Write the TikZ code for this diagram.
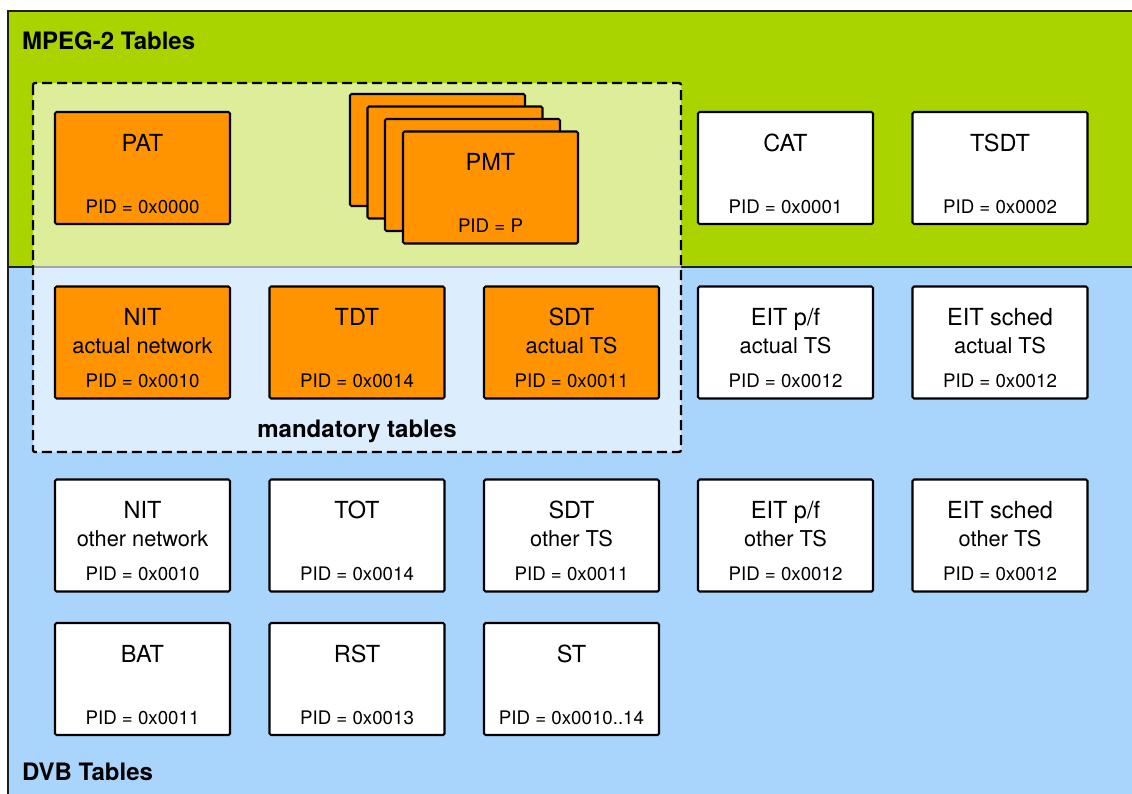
\documentclass[tikz,border=0pt]{standalone}
\usepackage{fontspec}
\setmainfont{TeX Gyre Heros}
\usetikzlibrary{calc}
\definecolor{mgreen}{RGB}{170,212,0}
\definecolor{mblue}{RGB}{169,213,253}
\definecolor{morange}{RGB}{255,147,0}
\definecolor{mframe}{RGB}{30,30,30}
\tikzset{
  tbl/.style={draw=black, line width=2.1pt, rounded corners=1.5pt, minimum width=175pt, minimum height=112pt, inner sep=0pt, outer sep=0pt, anchor=north west},
  ttl/.style={font=\fontsize{23.5}{24}\selectfont, inner sep=0pt, anchor=base},
  subt/.style={font=\fontsize{21.8}{22}\selectfont, inner sep=0pt, anchor=base},
  pidt/.style={font=\fontsize{18.7}{19}\selectfont, inner sep=0pt, anchor=base},
  hdr/.style={font=\bfseries\fontsize{24}{24}\selectfont, inner sep=0pt, anchor=base west},
  mand/.style={font=\bfseries\fontsize{24}{24}\selectfont, inner sep=0pt, anchor=base},
  dashbox/.style={draw=black, line width=2.3pt, dash pattern=on 10pt off 5pt, fill=white, fill opacity=0.6, rounded corners=2pt},
}
\newcommand\mybox[7]{%
  \node[tbl, fill=#4] (#1) at (#2,#3) {};
  \node[ttl] (#1t) at ($(#1.north)+(0,39)$) {#5};
  \if\relax\detokenize{#6}\relax\else
    \node[subt] (#1s) at ($(#1.north)+(0,67)$) {#6};
  \fi
  \node[pidt] (#1p) at ($(#1.north)+(0,101)$) {#7};
}
\begin{document}
\begin{tikzpicture}[x=1pt,y=-1pt]
\useasboundingbox (0,0) rectangle (1132,793);
\clip (0,0) rectangle (1132,793);
% backgrounds
\fill[mgreen] (8,11) rectangle (1150,267);
\fill[mblue] (8,267) rectangle (1150,810);
\draw[mframe, line width=2pt] (8,810) -- (8,11) -- (1150,11);
\draw[mframe, line width=2pt] (8,267) -- (1150,267);
% headers
\node[hdr] (h1) at (22,49) {MPEG-2 Tables};
\node[hdr] (h2) at (22,780) {DVB Tables};
% mandatory area
\draw[dashbox] (33,83) rectangle (681,452);
\node[mand] (mt) at (357,437) {mandatory tables};
% row 1
\mybox{pat}{55}{112}{morange}{PAT}{}{PID = 0x0000}
\node[tbl, fill=morange] (pmta) at (350,94) {};
\node[tbl, fill=morange] (pmtb) at (367.5,106.5) {};
\node[tbl, fill=morange] (pmtc) at (385,119) {};
\mybox{pmt}{403}{131.5}{morange}{PMT}{}{PID = P}
\mybox{cat}{698}{112}{white}{CAT}{}{PID = 0x0001}
\mybox{tsdt}{912.5}{112}{white}{TSDT}{}{PID = 0x0002}
% row 2
\mybox{nita}{55}{286.5}{morange}{NIT}{actual network}{PID = 0x0010}
\mybox{tdt}{269.5}{286.5}{morange}{TDT}{}{PID = 0x0014}
\mybox{sdta}{484}{286.5}{morange}{SDT}{actual TS}{PID = 0x0011}
\mybox{eitpa}{698}{286.5}{white}{EIT p/f}{actual TS}{PID = 0x0012}
\mybox{eitsa}{912.5}{286.5}{white}{EIT sched}{actual TS}{PID = 0x0012}
% row 3
\mybox{nito}{55}{479.5}{white}{NIT}{other network}{PID = 0x0010}
\mybox{tot}{269.5}{479.5}{white}{TOT}{}{PID = 0x0014}
\mybox{sdto}{484}{479.5}{white}{SDT}{other TS}{PID = 0x0011}
\mybox{eitpo}{698}{479.5}{white}{EIT p/f}{other TS}{PID = 0x0012}
\mybox{eitso}{912.5}{479.5}{white}{EIT sched}{other TS}{PID = 0x0012}
% row 4
\mybox{bat}{55}{623}{white}{BAT}{}{PID = 0x0011}
\mybox{rst}{269.5}{623}{white}{RST}{}{PID = 0x0013}
\mybox{st}{484}{623}{white}{ST}{}{PID = 0x0010..14}
\end{tikzpicture}
\end{document}
